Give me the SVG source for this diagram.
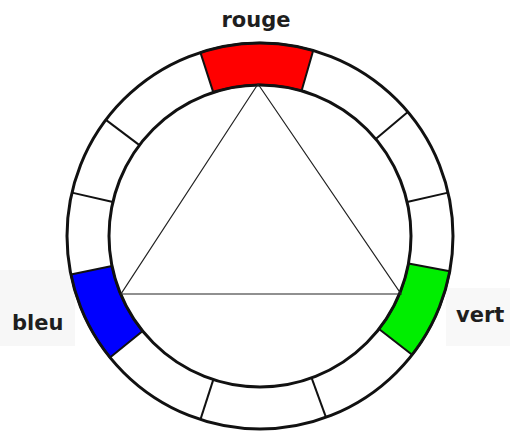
<svg xmlns="http://www.w3.org/2000/svg" width="510" height="431" viewBox="0 0 510 431">
  <style>
    .ring { fill: none; stroke: #111; stroke-width: 3; }
    .div { stroke: #111; stroke-width: 2; }
    .seg { stroke: #111; stroke-width: 2; stroke-linejoin: round; }
    .tri { fill: none; stroke: #222; stroke-width: 1.2; }
    .lbl { font-family: "DejaVu Sans", "Liberation Sans", sans-serif; font-weight: bold; font-size: 21px; fill: #1e1e1e; }
  </style>
  <rect width="510" height="431" fill="#ffffff"/>
  <rect x="0" y="270" width="75" height="76" fill="#f7f7f7"/>
  <rect x="446" y="288" width="64" height="58" fill="#f8f8f8"/>
  <circle cx="260" cy="236" r="193" fill="#ffffff"/>

  <g id="segment-rouge">
    <path class="seg" fill="#ff0000" d="M200.4,52.4 A193,193 0 0 1 313.2,50.5 L301.6,90.8 A151,151 0 0 0 213.3,92.4 Z"/>
  </g>
  <g id="segment-vert">
    <path class="seg" fill="#00ee00" d="M449.8,271.2 A193,193 0 0 1 412.1,354.8 L379.0,329.0 A151,151 0 0 0 408.5,263.5 Z"/>
  </g>
  <g id="segment-bleu">
    <path class="seg" fill="#0000ff" d="M110.0,357.5 A193,193 0 0 1 70.9,274.5 L112.0,266.1 A151,151 0 0 0 142.7,331.0 Z"/>
  </g>

  <g id="wheel">
    <circle class="ring" cx="260" cy="236" r="193"/>
    <circle class="ring" cx="260" cy="236" r="151"/>
    <line class="div" x1="407.8" y1="112.0" x2="375.7" y2="138.9"/>
    <line class="div" x1="448.1" y1="192.6" x2="407.1" y2="202.0"/>
    <line class="div" x1="326.0" y1="417.4" x2="311.6" y2="377.9"/>
    <line class="div" x1="200.4" y1="419.6" x2="213.3" y2="379.6"/>
    <line class="div" x1="71.9" y1="192.6" x2="112.9" y2="202.0"/>
    <line class="div" x1="105.9" y1="119.9" x2="139.4" y2="145.1"/>
  </g>

  <g id="connectors">
    <polygon class="tri" points="258,84 121,294 401,294"/>
  </g>

  <g id="labels">
    <text class="lbl" x="256" y="27" text-anchor="middle">rouge</text>
    <text class="lbl" x="12" y="330">bleu</text>
    <text class="lbl" x="456" y="322">vert</text>
  </g>
</svg>
